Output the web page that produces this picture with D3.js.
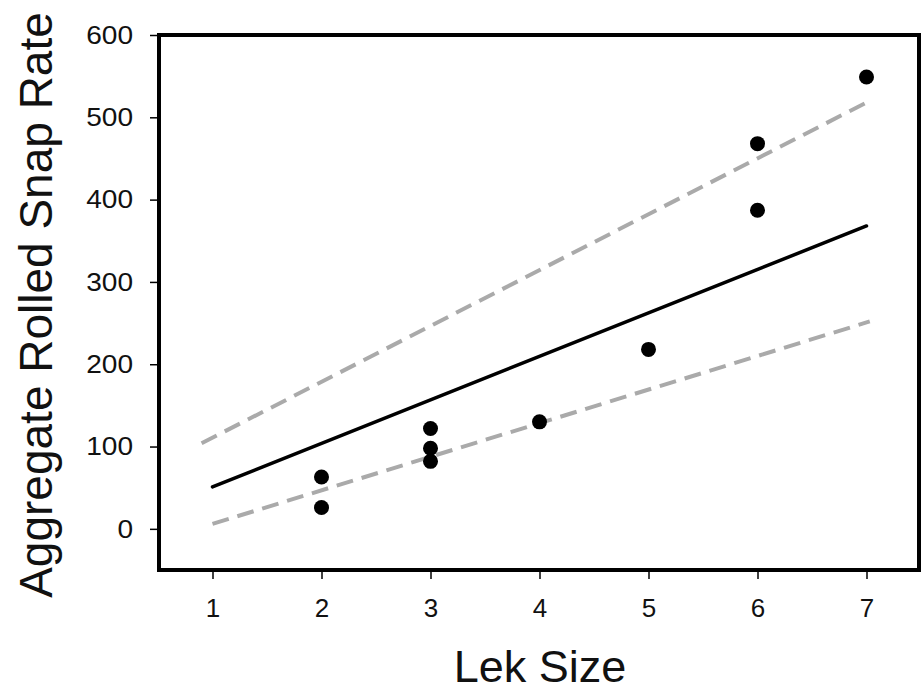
<!DOCTYPE html>
<html>
<head>
<meta charset="utf-8">
<script src="https://cdn.jsdelivr.net/npm/d3@7"></script>
<style>
  body { margin: 0; background: #fff; }
  svg { display: block; font-family: "Liberation Sans", Arial, sans-serif; }
</style>
</head>
<body>
<svg id="chart" width="922" height="692"></svg>
<script>
// observed points
const lekSize = [2, 2, 3, 3, 3, 4, 5, 6, 6, 7];
const snapRate = [63, 26, 122, 98, 82, 130, 218, 468, 387, 549];

// fitted line and dashed bounds
const fitLine = [{x: 1, y: 51}, {x: 7, y: 368}];
const upperLine = [{x: 0.9, y: 104}, {x: 7.03, y: 520}];
const lowerLine = [{x: 1.0, y: 6}, {x: 7.03, y: 252}];

const xTicks = [1, 2, 3, 4, 5, 6, 7];
const yTicks = [0, 100, 200, 300, 400, 500, 600];

const svg = d3.select("#chart");

const x = d3.scaleLinear().domain([0.5, 7.5]).range([158, 921]);
const y = d3.scaleLinear().domain([-50, 600]).range([570, 35]);

// axes
const xAxis = svg.append("g")
  .attr("transform", "translate(0,572)")
  .call(d3.axisBottom(x).tickValues(xTicks).tickSize(7).tickPadding(20).tickFormat(d3.format("d")));
const yAxis = svg.append("g")
  .attr("transform", "translate(157,0)")
  .call(d3.axisLeft(y).tickValues(yTicks).tickSize(7).tickPadding(17).tickFormat(d3.format("d")));

[xAxis, yAxis].forEach(a => {
  a.select(".domain").remove();
  a.selectAll(".tick line").attr("stroke", "#000").attr("stroke-width", 1.5);
  a.selectAll(".tick text")
    .attr("fill", "#111")
    .style("font-size", "26px")
    .style("font-family", "'Liberation Sans', Arial, sans-serif");
});
yAxis.selectAll(".tick text").attr("transform", "scale(1.08,1)").attr("x", -24 / 1.08);

// lines
const line = d3.line().x(d => x(d.x)).y(d => y(d.y));

svg.append("path")
  .datum(upperLine)
  .attr("d", line)
  .attr("fill", "none")
  .attr("stroke", "#aaaaaa")
  .attr("stroke-width", 4)
  .attr("stroke-dasharray", "17,9");

svg.append("path")
  .datum(lowerLine)
  .attr("d", line)
  .attr("fill", "none")
  .attr("stroke", "#aaaaaa")
  .attr("stroke-width", 4)
  .attr("stroke-dasharray", "17,9");

svg.append("path")
  .datum(fitLine)
  .attr("d", line)
  .attr("fill", "none")
  .attr("stroke", "#000")
  .attr("stroke-width", 3.5)
  .attr("stroke-linecap", "round");

// points
svg.selectAll("circle")
  .data(lekSize.map((d, i) => ({x: d, y: snapRate[i]})))
  .enter().append("circle")
  .attr("cx", d => x(d.x))
  .attr("cy", d => y(d.y))
  .attr("r", 7.5)
  .attr("fill", "#000");

// frame
svg.append("rect")
  .attr("x", x(0.5) + 1)
  .attr("y", y(600))
  .attr("width", x(7.5) - x(0.5) - 3)
  .attr("height", y(-50) - y(600))
  .attr("fill", "none")
  .attr("stroke", "#000")
  .attr("stroke-width", 4);

// titles
svg.append("text")
  .attr("x", 540)
  .attr("y", 682)
  .attr("text-anchor", "middle")
  .style("font-size", "45px")
  .attr("fill", "#111")
  .text("Lek Size");

svg.append("text")
  .attr("transform", "translate(52,305) rotate(-90)")
  .attr("text-anchor", "middle")
  .style("font-size", "46px")
  .attr("fill", "#111")
  .text("Aggregate Rolled Snap Rate");
</script>
</body>
</html>
